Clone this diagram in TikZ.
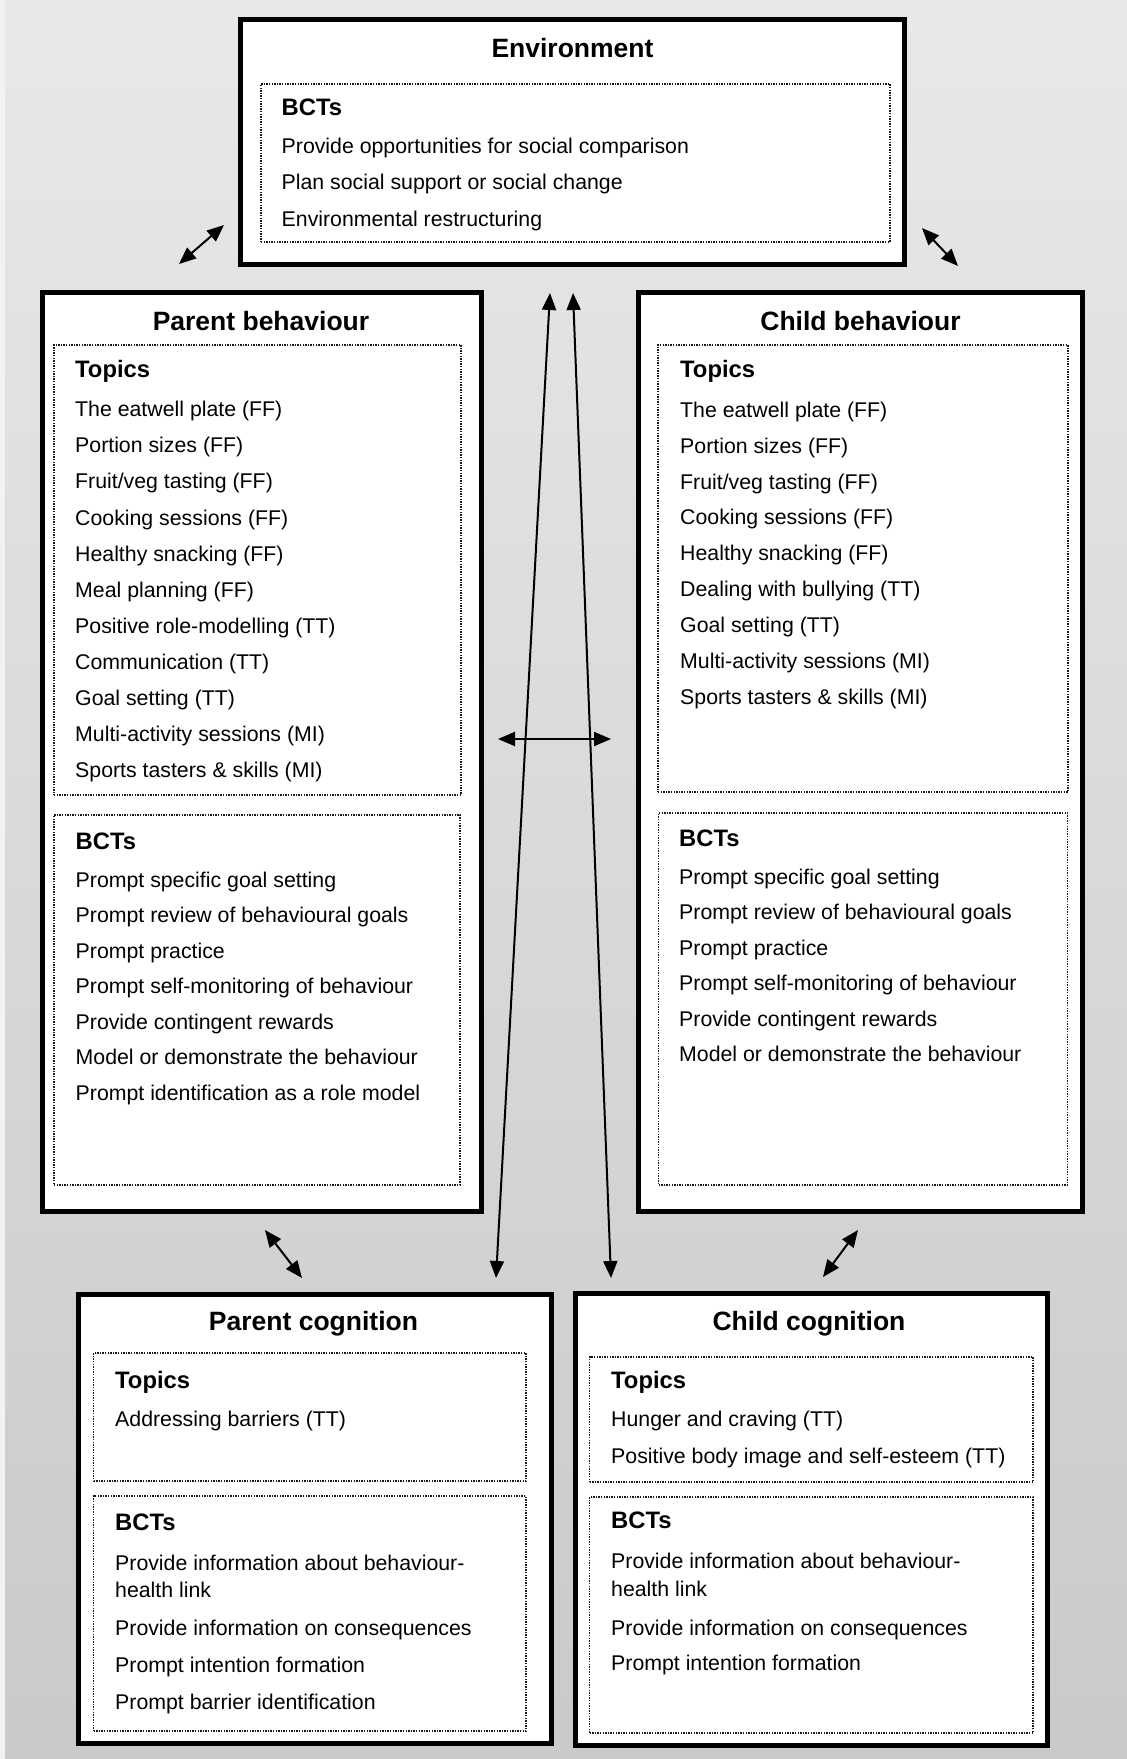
\documentclass[tikz,border=0pt]{standalone}
\usepackage{fontspec}
\setmainfont{Liberation Sans}
\usetikzlibrary{arrows.meta}

% one line of a list per node, baselines spaced evenly
\newcommand\linelist[5]{%
  \foreach \t [count=\i] in {#5} {%
    \node[itm] (#1-\i) at (#2, {#3+(\i-1)*#4}) {\t};}}

\begin{document}
\begin{tikzpicture}[x=1pt, y=-1pt,
  outerbox/.style={draw=black, line width=5pt, fill=white, inner sep=0pt},
  dotbox/.style={draw=black!90, line width=1.5pt, dash pattern=on 1.4pt off 1.2pt, inner sep=0pt},
  title/.style={inner sep=0pt, anchor=base, font=\fontsize{26.5}{30}\selectfont\bfseries},
  head/.style={inner sep=0pt, anchor=base west, font=\fontsize{23.8}{28}\selectfont\bfseries},
  itm/.style={inner sep=0pt, anchor=base west, font=\fontsize{21.3}{25}\selectfont},
  link/.style={line width=2pt, {Triangle[length=17pt,width=14pt]}-{Triangle[length=17pt,width=14pt]}}]

% page background
\useasboundingbox (0,0) rectangle (1127,1759);
\shade[top color=black!9, middle color=black!17, bottom color=black!21] (0,0) rectangle (1127,1759);
\fill[black!5] (0,0) rectangle (5,1759);

% outer boxes
\node[outerbox, minimum width=663.5pt, minimum height=244.5pt] (env) at (572.25,141.75) {};
\node[outerbox, minimum width=439pt, minimum height=918.5pt] (pb) at (261.5,751.75) {};
\node[outerbox, minimum width=444pt, minimum height=918.5pt] (cb) at (860,751.75) {};
\node[outerbox, minimum width=473pt, minimum height=449pt] (pc) at (314.5,1518.5) {};
\node[outerbox, minimum width=472pt, minimum height=452pt] (cc) at (811,1519) {};

% dotted inner panels
\node[dotbox, minimum width=629pt, minimum height=158pt] (envb) at (575.5,163) {};
\node[dotbox, minimum width=407pt, minimum height=450pt] (pbt) at (257.5,570) {};
\node[dotbox, minimum width=406pt, minimum height=370pt] (pbb) at (257,1000) {};
\node[dotbox, minimum width=410pt, minimum height=447pt] (cbt) at (863,568.5) {};
\node[dotbox, minimum width=409pt, minimum height=372pt] (cbb) at (863,999) {};
\node[dotbox, minimum width=432.5pt, minimum height=128pt] (pct) at (309.75,1417) {};
\node[dotbox, minimum width=432.5pt, minimum height=235pt] (pcb) at (309.75,1613.5) {};
\node[dotbox, minimum width=443.5pt, minimum height=125pt] (cct) at (811.25,1419.5) {};
\node[dotbox, minimum width=443.5pt, minimum height=236pt] (ccb) at (811.25,1615) {};

% Environment
\node[title] (envT) at (572.5,57.5) {Environment};
\node[head] (envH) at (281.5,115) {BCTs};
\linelist{envI}{281.5}{153.5}{36.3}{{Provide opportunities for social comparison},
  {Plan social support or social change},{Environmental restructuring}}

% Parent behaviour
\node[title] (pbT) at (261,330) {Parent behaviour};
\node[head] (pbH1) at (75,377) {Topics};
\linelist{pbI}{75}{416.7}{36.1}{{The eatwell plate (FF)},{Portion sizes (FF)},
  {Fruit/veg tasting (FF)},{Cooking sessions (FF)},{Healthy snacking (FF)},
  {Meal planning (FF)},{Positive role-modelling (TT)},{Communication (TT)},
  {Goal setting (TT)},{Multi-activity sessions (MI)},{Sports tasters \& skills (MI)}}
\node[head] (pbH2) at (75.5,849.3) {BCTs};
\linelist{pbJ}{75.5}{887.3}{35.45}{{Prompt specific goal setting},
  {Prompt review of behavioural goals},{Prompt practice},
  {Prompt self-monitoring of behaviour},{Provide contingent rewards},
  {Model or demonstrate the behaviour},{Prompt identification as a role model}}

% Child behaviour
\node[title] (cbT) at (860.5,330) {Child behaviour};
\node[head] (cbH1) at (680,377.5) {Topics};
\linelist{cbI}{680}{417.3}{35.85}{{The eatwell plate (FF)},{Portion sizes (FF)},
  {Fruit/veg tasting (FF)},{Cooking sessions (FF)},{Healthy snacking (FF)},
  {Dealing with bullying (TT)},{Goal setting (TT)},
  {Multi-activity sessions (MI)},{Sports tasters \& skills (MI)}}
\node[head] (cbH2) at (679,846.7) {BCTs};
\linelist{cbJ}{679}{884}{35.5}{{Prompt specific goal setting},
  {Prompt review of behavioural goals},{Prompt practice},
  {Prompt self-monitoring of behaviour},{Provide contingent rewards},
  {Model or demonstrate the behaviour}}

% Parent cognition
\node[title] (pcT) at (313.5,1330) {Parent cognition};
\node[head] (pcH1) at (115,1388.3) {Topics};
\node[itm] (pcI) at (115,1426) {Addressing barriers (TT)};
\node[head] (pcH2) at (115,1530.7) {BCTs};
\node[itm] (pcJ1) at (115,1570) {Provide information about behaviour-};
\node[itm] (pcJ1b) at (115,1597.7) {health link};
\node[itm] (pcJ2) at (115,1635.7) {Provide information on consequences};
\node[itm] (pcJ3) at (115,1672.3) {Prompt intention formation};
\node[itm] (pcJ4) at (115,1709) {Prompt barrier identification};

% Child cognition
\node[title] (ccT) at (809,1330) {Child cognition};
\node[head] (ccH1) at (611,1388.3) {Topics};
\node[itm] (ccI1) at (611,1426.7) {Hunger and craving (TT)};
\node[itm] (ccI2) at (611,1463.3) {Positive body image and self-esteem (TT)};
\node[head] (ccH2) at (611,1528.3) {BCTs};
\node[itm] (ccJ1) at (611,1568.3) {Provide information about behaviour-};
\node[itm] (ccJ1b) at (611,1596.7) {health link};
\node[itm] (ccJ2) at (611,1635) {Provide information on consequences};
\node[itm] (ccJ3) at (611,1670.7) {Prompt intention formation};

% arrow end points
\coordinate (a1) at (179,264);   \coordinate (a2) at (224,225);
\coordinate (b1) at (922,228);   \coordinate (b2) at (958,266);
\coordinate (c1) at (265,1230);  \coordinate (c2) at (302,1278);
\coordinate (d1) at (858,1230);  \coordinate (d2) at (823,1277);
\coordinate (e1) at (550,293);   \coordinate (e2) at (496,1278);
\coordinate (f1) at (573,293);   \coordinate (f2) at (611,1278);
\coordinate (g1) at (498,739);   \coordinate (g2) at (611,739);

% connectors
\draw[link] (a1) -- (a2);
\draw[link] (b1) -- (b2);
\draw[link] (c1) -- (c2);
\draw[link] (d1) -- (d2);
\draw[link] (e1) -- (e2);
\draw[link] (f1) -- (f2);
\draw[link] (g1) -- (g2);
\end{tikzpicture}
\end{document}
